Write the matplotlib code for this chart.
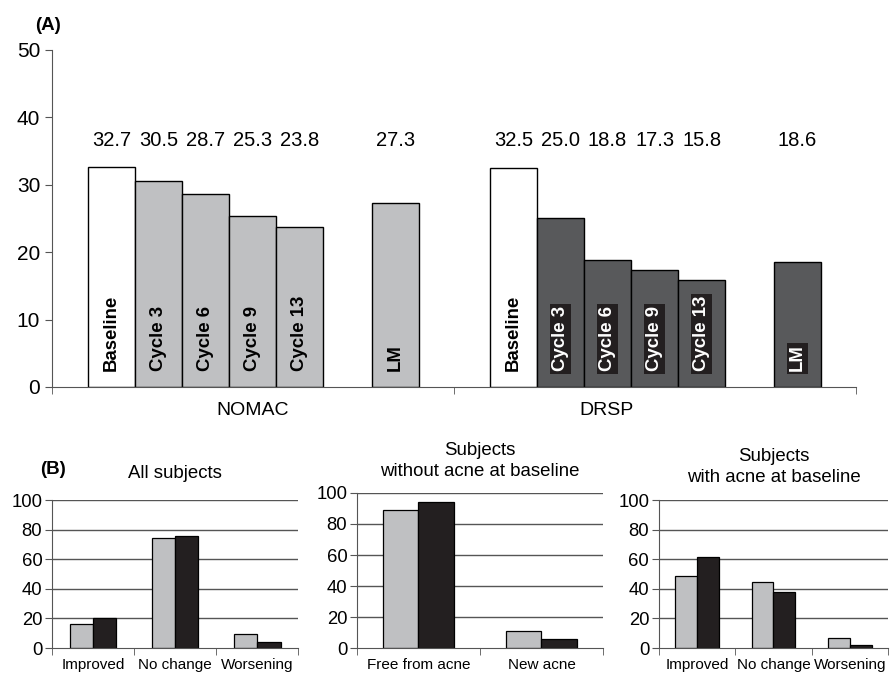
import numpy as np
import matplotlib.pyplot as plt

# (A) mean lesion counts per visit
visits = ["Baseline", "Cycle 3", "Cycle 6", "Cycle 9", "Cycle 13", "LM"]
nomac = [32.7, 30.5, 28.7, 25.3, 23.8, 27.3]
drsp = [32.5, 25.0, 18.8, 17.3, 15.8, 18.6]
groups = ["NOMAC", "DRSP"]

# (B) percentages of subjects, NOMAC (grey) vs DRSP (black)
all_cats = ["Improved", "No change", "Worsening"]
all_nomac = [16, 74.5, 9.5]
all_drsp = [20, 75.5, 4]

without_cats = ["Free from acne", "New acne"]
without_nomac = [89, 11]
without_drsp = [94.5, 5.8]

with_cats = ["Improved", "No change", "Worsening"]
with_nomac = [48.6, 44.6, 7]
with_drsp = [61.6, 37.7, 1.8]

plt.rcParams["font.family"] = ["Liberation Sans", "DejaVu Sans"]

WHITE = "#ffffff"
LIGHT = "#bfc0c2"
DARK = "#58595b"
BLACK = "#231f20"
AXC = "#555555"

fig = plt.figure(figsize=(8.94, 6.77), dpi=100)

# ---- panel A ----
ax = fig.add_axes([0.0582, 0.4284, 0.8993, 0.4978])
bw = 0.117
slots = [0.148, 0.265, 0.382, 0.499, 0.616, 0.854]
for g, (vals, fill) in enumerate([(nomac, LIGHT), (drsp, DARK)]):
    xs = [g + s for s in slots]
    colors = [WHITE] + [fill] * 5
    ax.bar(xs, vals, width=bw, color=colors, edgecolor="black", linewidth=1.0, zorder=2)
    for x, v, name in zip(xs, vals, visits):
        ax.text(x, 36.6, f"{v:.1f}", ha="center", va="center", fontsize=14.5)
        if g == 1 and name != "Baseline":
            ax.text(x, 2.3, name, rotation=90, ha="center", va="bottom",
                    fontsize=13.4, fontweight="bold", color="white", zorder=3,
                    bbox=dict(facecolor=BLACK, edgecolor="none", pad=1.5))
        else:
            ax.text(x, 2.3, name, rotation=90, ha="center", va="bottom",
                    fontsize=13.4, fontweight="bold", color="black", zorder=3)

ax.set_xlim(0, 2)
ax.set_ylim(0, 50)
ax.set_yticks(range(0, 51, 10))
ax.set_xticks([0, 1, 2], minor=True)
ax.set_xticks([0.5, 1.38])
ax.set_xticklabels(groups)
ax.tick_params(axis="x", which="major", length=0, labelsize=14, pad=11)
ax.tick_params(axis="x", which="minor", length=5, direction="out", color=AXC)
ax.tick_params(axis="y", length=5, direction="out", labelsize=15, color=AXC)
for side in ["top", "right"]:
    ax.spines[side].set_visible(False)
for side in ["left", "bottom"]:
    ax.spines[side].set_color(AXC)
fig.text(0.039, 0.963, "(A)", fontsize=13.5, fontweight="bold", ha="left", va="center")


# ---- panel B ----
def small_panel(rect, cats, v1, v2, title, title_y):
    a = fig.add_axes(rect)
    n = len(cats)
    x = np.arange(n) + 0.5
    w = 0.286
    a.bar(x - w / 2, v1, width=w, color=LIGHT, edgecolor="black", linewidth=0.9, zorder=2)
    a.bar(x + w / 2, v2, width=w, color=BLACK, edgecolor="black", linewidth=0.9, zorder=2)
    a.set_xlim(0, n)
    a.set_ylim(0, 100)
    a.set_yticks(range(0, 101, 20))
    for yv in range(20, 101, 20):
        a.axhline(yv, color=AXC, linewidth=1.0, zorder=1)
    a.set_xticks(range(n + 1), minor=True)
    a.set_xticks(x)
    a.set_xticklabels(cats)
    a.tick_params(axis="x", which="major", length=0, labelsize=11, pad=7)
    a.tick_params(axis="x", which="minor", length=5, direction="out", color=AXC)
    a.tick_params(axis="y", length=5, direction="out", labelsize=13.3, color=AXC, pad=2)
    for side in ["top", "right"]:
        a.spines[side].set_visible(False)
    for side in ["left", "bottom"]:
        a.spines[side].set_color(AXC)
    cx = rect[0] + rect[2] / 2
    fig.text(cx, title_y, title, ha="center", va="center", fontsize=13.4, linespacing=1.25)
    return a


small_panel([0.0582, 0.0428, 0.2752, 0.2186], all_cats, all_nomac, all_drsp,
            "All subjects", 1 - 473 / 677)
small_panel([0.3993, 0.0428, 0.2752, 0.2290], without_cats, without_nomac, without_drsp,
            "Subjects\nwithout acne at baseline", 1 - 461 / 677)
small_panel([0.7371, 0.0428, 0.2562, 0.2186], with_cats, with_nomac, with_drsp,
            "Subjects\nwith acne at baseline", 1 - 467 / 677)
fig.text(0.045, 1 - 470 / 677, "(B)", fontsize=13.5, fontweight="bold", ha="left", va="center")

fig.savefig("out.png", dpi=100)
